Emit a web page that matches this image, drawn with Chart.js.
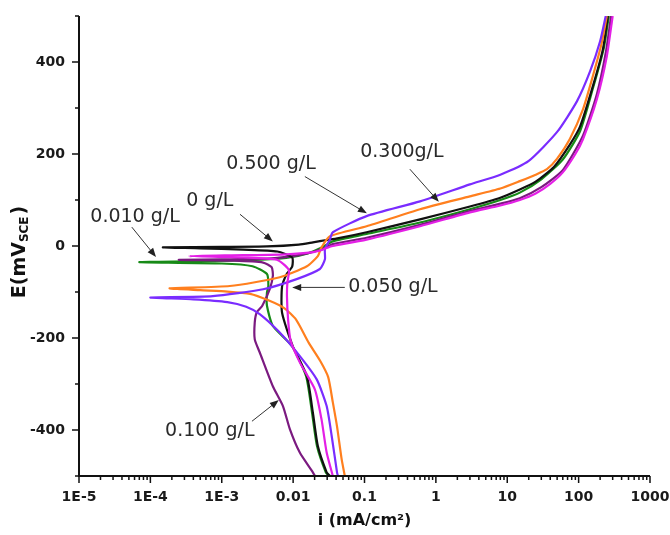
<!DOCTYPE html>
<html>
<head>
<meta charset="utf-8">
<script src="https://cdn.jsdelivr.net/npm/chart.js@4.4.1/dist/chart.umd.min.js"></script>
<style>
  html, body { margin: 0; padding: 0; background: #fff; }
  #wrap { width: 670px; height: 535px; }
</style>
</head>
<body>
<div id="wrap"><canvas id="tafel"></canvas></div>
<script>
// Polarization curves: current density i (mA/cm2) against potential E (mV vs SCE)
// each curve runs from the cathodic end, through Ecorr, up the anodic branch

const blankI = [0.0327, 0.0295, 0.0222, 0.0189, 0.0156, 0.0099, 0.0070, 0.0070, 0.0082, 0.0097, 0.0097, 0.006, 0.002, 0.0005, 0.00015, 0.001, 0.0043, 0.012, 0.019, 0.0295, 0.04, 0.107, 0.6, 3.0, 8, 15, 25, 45, 75, 105, 158, 219, 257];
const blankE = [-500, -492, -435, -362, -283, -218, -145, -88, -60, -45, -25, -12, -8, -5, -3, -2, -1, 3, 8, 13, 16, 30, 58, 86, 105, 123, 140, 172, 220, 260, 347, 428, 500];

const c010I = [0.0318, 0.0287, 0.0216, 0.0184, 0.0152, 0.0097, 0.0052, 0.0043, 0.0043, 0.0045, 0.0043, 0.0027, 0.001, 0.00007, 0.0005, 0.003, 0.008, 0.016, 0.026, 0.036, 0.107, 0.6, 3.0, 8, 15, 30, 60, 105, 160, 225, 265];
const c010E = [-500, -492, -435, -362, -283, -218, -174, -130, -101, -87, -61, -44, -38, -35, -33, -30, -26, -16, -2, 10, 26, 51, 80, 100, 116, 145, 188, 250, 345, 430, 500];

const c050I = [0.036, 0.0295, 0.025, 0.0202, 0.0124, 0.0092, 0.0085, 0.0082, 0.0083, 0.0087, 0.0059, 0.002, 0.00035, 0.002, 0.008, 0.018, 0.026, 0.032, 0.036, 0.107, 0.6, 3.0, 8, 15, 25, 40, 60, 90, 115, 180, 248, 300];
const c050E = [-500, -449, -377, -312, -253, -205, -160, -110, -80, -52, -30, -25, -22, -20, -18, -14, -8, -2, 0, 14, 43, 73, 88, 100, 114, 135, 160, 200, 232, 319, 412, 500];

const c100I = [0.0202, 0.0189, 0.0124, 0.0090, 0.0072, 0.0052, 0.0034, 0.0029, 0.0029, 0.0031, 0.0037, 0.0047, 0.0052, 0.0050, 0.0038, 0.0015, 0.00025, 0.001, 0.005, 0.012, 0.02, 0.028, 0.036, 0.107, 0.6, 3.0, 8, 15, 30, 60, 115, 180, 240, 285];
const c100E = [-500, -492, -449, -398, -348, -305, -231, -203, -166, -144, -130, -94, -65, -46, -36, -32, -30, -29, -27, -20, -12, -4, 4, 18, 46, 76, 92, 104, 128, 165, 240, 330, 420, 500];

const c300I = [0.053, 0.0479, 0.0412, 0.036, 0.031, 0.024, 0.0165, 0.011, 0.0075, 0.0045, 0.0025, 0.0012, 0.0005, 0.000186, 0.0013, 0.0065, 0.0156, 0.0222, 0.025, 0.0327, 0.107, 0.6, 3.0, 8, 15, 25, 36, 50, 75, 115, 158, 211, 248];
const c300E = [-500, -464, -392, -340, -285, -250, -210, -160, -135, -118, -104, -99, -96, -92, -87, -68, -44, -22, -3, 21, 43, 80, 108, 125, 141, 155, 167, 190, 232, 297, 369, 442, 500];

const c500I = [0.0424, 0.0412, 0.0347, 0.0295, 0.0214, 0.0118, 0.0062, 0.0034, 0.0022, 0.0012, 0.0004, 0.0001, 0.00075, 0.0038, 0.0112, 0.0237, 0.0279, 0.0279, 0.0327, 0.036, 0.107, 0.6, 3.0, 8, 20, 50, 95, 145, 200, 240];
const c500E = [-500, -492, -413, -348, -290, -235, -185, -148, -132, -122, -116, -112, -109, -94, -72, -50, -29, -7, 14, 30, 65, 97, 134, 155, 185, 248, 315, 380, 445, 500];

const xTickValues = [1e-5, 1e-4, 1e-3, 0.01, 0.1, 1, 10, 100, 1000];
const xTickLabels = ['1E-5', '1E-4', '1E-3', '0.01', '0.1', '1', '10', '100', '1000'];
const yTickValues = [-400, -200, 0, 200, 400];
const yMinorValues = [-500, -300, -100, 100, 300, 500];

// callouts: text centre, arrow start, arrow head (data coordinates)
const notes = [
    { text: '0 g/L',     at: [6.8e-4, 97],   from: [1.8e-3, 69],  to: [5.2e-3, 10] },
    { text: '0.010 g/L', at: [6.1e-5, 62],   from: [5.5e-5, 41],  to: [1.2e-4, -24] },
    { text: '0.500 g/L', at: [4.9e-3, 178],  from: [0.0146, 151], to: [0.108, 71] },
    { text: '0.300g/L',  at: [0.334, 204],   from: [0.432, 167],  to: [1.10, 96] },
    { text: '0.050 g/L', at: [0.25, -90],    from: [0.053, -90],  to: [0.0097, -90] },
    { text: '0.100 g/L', at: [6.8e-4, -403], from: [2.65e-3, -381], to: [6.3e-3, -335] }
];

function toPoints(iArr, eArr) {
    return iArr.map((v, k) => ({ x: v, y: eArr[k] }));
}

function curve(label, iArr, eArr, color) {
    return {
        label,
        data: toPoints(iArr, eArr),
        borderColor: color,
        backgroundColor: color,
        borderWidth: 2.2,
        showLine: true,
        pointRadius: 0,
        tension: 0.2,
        fill: false
    };
}

// axis lines plus major/minor tick marks
const axesPlugin = {
    id: 'axesTicks',
    afterDatasetsDraw(chart) {
        const { ctx, chartArea: a, scales } = chart;
        const xs = scales.x, ys = scales.y;
        ctx.save();
        ctx.strokeStyle = '#111';
        ctx.lineWidth = 2;
        ctx.beginPath();
        ctx.moveTo(a.left, a.top);
        ctx.lineTo(a.left, a.bottom);
        ctx.lineTo(a.right, a.bottom);
        ctx.stroke();

        ctx.lineWidth = 1.5;
        ctx.beginPath();
        yTickValues.forEach(v => {
            const p = ys.getPixelForValue(v);
            ctx.moveTo(a.left, p); ctx.lineTo(a.left - 7, p);
        });
        yMinorValues.forEach(v => {
            const p = ys.getPixelForValue(v);
            ctx.moveTo(a.left, p); ctx.lineTo(a.left - 4, p);
        });
        xTickValues.forEach((v, k) => {
            const p = xs.getPixelForValue(v);
            ctx.moveTo(p, a.bottom); ctx.lineTo(p, a.bottom + 7);
            if (k === xTickValues.length - 1) return;
            for (let m = 2; m <= 9; m++) {
                const q = xs.getPixelForValue(v * m);
                ctx.moveTo(q, a.bottom); ctx.lineTo(q, a.bottom + 4);
            }
        });
        ctx.stroke();
        ctx.restore();
    }
};

// labels with arrows pointing at the curves
const notesPlugin = {
    id: 'callouts',
    afterDatasetsDraw(chart) {
        const { ctx, scales } = chart;
        const px = p => [scales.x.getPixelForValue(p[0]), scales.y.getPixelForValue(p[1])];
        ctx.save();
        ctx.font = '19px "DejaVu Sans"';
        ctx.textAlign = 'center';
        ctx.textBaseline = 'middle';
        notes.forEach(n => {
            const [tx, ty] = px(n.at);
            ctx.fillStyle = '#2a2a2a';
            ctx.fillText(n.text, tx, ty);

            const [x0, y0] = px(n.from);
            const [x1, y1] = px(n.to);
            const ang = Math.atan2(y1 - y0, x1 - x0);
            ctx.strokeStyle = '#333';
            ctx.lineWidth = 1;
            ctx.beginPath();
            ctx.moveTo(x0, y0);
            ctx.lineTo(x1 - 6 * Math.cos(ang), y1 - 6 * Math.sin(ang));
            ctx.stroke();
            ctx.fillStyle = '#222';
            ctx.beginPath();
            ctx.moveTo(x1, y1);
            ctx.lineTo(x1 - 9 * Math.cos(ang) + 3.5 * Math.sin(ang), y1 - 9 * Math.sin(ang) - 3.5 * Math.cos(ang));
            ctx.lineTo(x1 - 9 * Math.cos(ang) - 3.5 * Math.sin(ang), y1 - 9 * Math.sin(ang) + 3.5 * Math.cos(ang));
            ctx.closePath();
            ctx.fill();
        });
        ctx.restore();
    }
};

// vertical axis title with the SCE subscript
const yTitlePlugin = {
    id: 'yTitle',
    afterDraw(chart) {
        const { ctx, chartArea: a } = chart;
        const big = 'bold 19px "DejaVu Sans"';
        const small = 'bold 12px "DejaVu Sans"';
        ctx.save();
        ctx.translate(20, (a.top + a.bottom) / 2 + 6);
        ctx.rotate(-Math.PI / 2);
        ctx.fillStyle = '#111';
        ctx.textBaseline = 'middle';
        ctx.textAlign = 'left';
        ctx.font = big;
        const w1 = ctx.measureText('E(mV').width;
        const w3 = ctx.measureText(')').width;
        ctx.font = small;
        const w2 = ctx.measureText('SCE').width + 2;
        let x = -(w1 + w2 + w3) / 2;
        ctx.font = big;
        ctx.fillText('E(mV', x, 0);
        x += w1;
        ctx.font = small;
        ctx.fillText('SCE', x, 5);
        x += w2;
        ctx.font = big;
        ctx.fillText(')', x, 0);
        ctx.restore();
    }
};

const tickFont = { family: '"DejaVu Sans"', size: 14, weight: 'bold' };

new Chart(document.getElementById('tafel'), {
    type: 'scatter',
    data: {
        datasets: [
            curve('0.050 g/L', c050I, c050E, '#e41fe6'),
            curve('0.500 g/L', c500I, c500E, '#7a2cff'),
            curve('0.300 g/L', c300I, c300E, '#ff7f1e'),
            curve('0 g/L', blankI, blankE, '#111111'),
            curve('0.100 g/L', c100I, c100E, '#7b1a80'),
            curve('0.010 g/L', c010I, c010E, '#178a17')
        ]
    },
    options: {
        responsive: true,
        maintainAspectRatio: false,
        animation: false,
        layout: { padding: { top: 16, right: 20, left: 0, bottom: 0 } },
        plugins: {
            legend: { display: false },
            tooltip: { enabled: false }
        },
        scales: {
            x: {
                type: 'logarithmic',
                min: 1e-5,
                max: 1000,
                // ticks are drawn by axesPlugin; tickLength only spaces the labels
                grid: { display: false, drawTicks: true, tickLength: 13 },
                border: { display: false },
                afterBuildTicks: s => { s.ticks = xTickValues.map(v => ({ value: v })); },
                afterFit: s => { s.height = 59; },
                ticks: {
                    autoSkip: false,
                    maxRotation: 0,
                    padding: 0,
                    color: '#1a1a1a',
                    font: tickFont,
                    callback: (v, k) => xTickLabels[k]
                },
                title: {
                    display: true,
                    text: 'i (mA/cm²)',
                    color: '#111',
                    font: { family: '"DejaVu Sans"', size: 16, weight: 'bold' },
                    padding: { top: 0, bottom: 5 }
                }
            },
            y: {
                type: 'linear',
                min: -500,
                max: 500,
                grid: { display: false, drawTicks: true, tickLength: 14 },
                border: { display: false },
                afterBuildTicks: s => { s.ticks = yTickValues.map(v => ({ value: v })); },
                afterFit: s => { s.width = 79; },
                ticks: {
                    padding: 0,
                    color: '#1a1a1a',
                    font: tickFont,
                    callback: v => String(v)
                }
            }
        }
    },
    plugins: [axesPlugin, notesPlugin, yTitlePlugin]
});
</script>
</body>
</html>
